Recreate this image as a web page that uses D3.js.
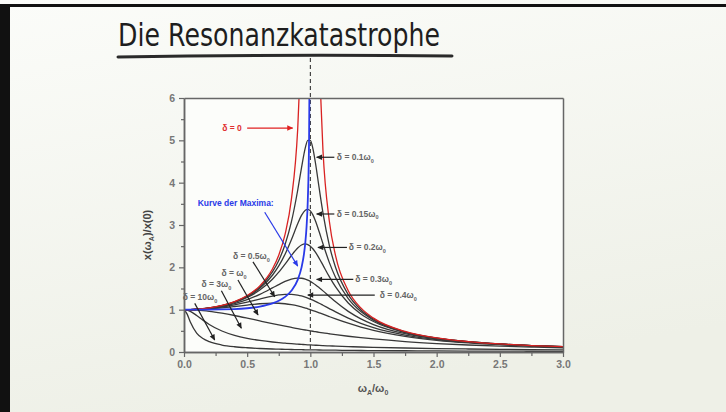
<!DOCTYPE html>
<html>
<head>
<meta charset="utf-8">
<script src="https://cdn.jsdelivr.net/npm/d3@7"></script>
<style>
body { margin: 0; background: #f4f5ef; }
svg { display: block; font-family: "Liberation Sans", Arial, sans-serif; }
</style>
</head>
<body>
<script>
// frequency ratio  omega_A / omega_0  (shared x grid)
var eta = [0, 0.025, 0.05, 0.1, 0.15, 0.2, 0.3, 0.4, 0.5, 0.6, 0.7, 0.75, 0.8, 0.85, 0.9, 0.93, 0.96, 0.98, 1.0, 1.02, 1.04, 1.07, 1.1, 1.15, 1.2, 1.3, 1.4, 1.5, 1.75, 2.0, 2.25, 2.5, 2.75, 3.0]

// x(omega_A)/x(0), one array per damping
var amp0   = [1, 1.001, 1.003, 1.010, 1.023, 1.042, 1.099, 1.190, 1.333, 1.563, 1.961, 2.286, 2.778, 3.604, 5.263, 7.402, null, null, null, null, null, 6.901, 4.762, 3.101, 2.273, 1.449, 1.042, 0.800, 0.485, 0.333, 0.246, 0.190, 0.152, 0.125]
var amp01  = [1, 1.001, 1.003, 1.010, 1.023, 1.041, 1.097, 1.185, 1.322, 1.536, 1.891, 2.162, 2.538, 3.073, 3.821, 4.350, 4.822, 5.001, 5.000, 4.809, 4.476, 3.869, 3.288, 2.525, 1.995, 1.356, 1.000, 0.778, 0.478, 0.330, 0.245, 0.190, 0.152, 0.125]
var amp015 = [1, 1.001, 1.002, 1.010, 1.022, 1.040, 1.094, 1.179, 1.307, 1.504, 1.813, 2.033, 2.311, 2.653, 3.029, 3.226, 3.350, 3.371, 3.333, 3.240, 3.101, 2.839, 2.557, 2.117, 1.759, 1.262, 0.954, 0.753, 0.470, 0.327, 0.243, 0.189, 0.151, 0.124]
var amp02  = [1, 1.001, 1.002, 1.009, 1.021, 1.038, 1.090, 1.170, 1.288, 1.463, 1.719, 1.885, 2.076, 2.279, 2.457, 2.527, 2.552, 2.538, 2.500, 2.439, 2.359, 2.213, 2.051, 1.780, 1.536, 1.157, 0.900, 0.721, 0.459, 0.322, 0.240, 0.187, 0.150, 0.124]
var amp03  = [1, 1.001, 1.002, 1.008, 1.019, 1.034, 1.078, 1.145, 1.238, 1.362, 1.514, 1.593, 1.667, 1.722, 1.747, 1.742, 1.720, 1.697, 1.667, 1.630, 1.589, 1.519, 1.444, 1.313, 1.185, 0.960, 0.784, 0.649, 0.432, 0.310, 0.234, 0.183, 0.148, 0.122]
var amp04  = [1, 1.000, 1.002, 1.007, 1.015, 1.028, 1.063, 1.113, 1.177, 1.250, 1.320, 1.347, 1.362, 1.362, 1.343, 1.323, 1.295, 1.274, 1.250, 1.224, 1.196, 1.152, 1.105, 1.026, 0.947, 0.801, 0.678, 0.577, 0.401, 0.294, 0.225, 0.178, 0.145, 0.120]
var amp05  = [1, 1.000, 1.001, 1.005, 1.011, 1.020, 1.044, 1.075, 1.109, 1.140, 1.155, 1.152, 1.140, 1.118, 1.087, 1.064, 1.038, 1.020, 1.000, 0.980, 0.959, 0.926, 0.893, 0.837, 0.782, 0.680, 0.589, 0.512, 0.370, 0.277, 0.215, 0.172, 0.141, 0.117]
var amp1   = [1, 0.999, 0.998, 0.990, 0.978, 0.962, 0.917, 0.862, 0.800, 0.735, 0.671, 0.640, 0.610, 0.581, 0.552, 0.536, 0.520, 0.510, 0.500, 0.490, 0.480, 0.466, 0.452, 0.431, 0.410, 0.372, 0.338, 0.308, 0.246, 0.200, 0.165, 0.138, 0.117, 0.100]
var amp3   = [1, 0.990, 0.960, 0.864, 0.753, 0.651, 0.496, 0.393, 0.323, 0.274, 0.236, 0.221, 0.208, 0.196, 0.185, 0.179, 0.174, 0.170, 0.167, 0.163, 0.160, 0.156, 0.151, 0.145, 0.139, 0.128, 0.118, 0.110, 0.094, 0.081, 0.071, 0.063, 0.056, 0.051]
var amp10  = [1, 0.895, 0.708, 0.448, 0.317, 0.243, 0.165, 0.124, 0.100, 0.083, 0.071, 0.067, 0.063, 0.059, 0.056, 0.054, 0.052, 0.051, 0.050, 0.049, 0.048, 0.047, 0.045, 0.043, 0.042, 0.038, 0.036, 0.033, 0.029, 0.025, 0.022, 0.020, 0.018, 0.017]

// "Kurve der Maxima"
var maxEta = [0, 0.2, 0.4, 0.5, 0.6, 0.7, 0.75, 0.8, 0.85, 0.9, 0.93, 0.95, 0.96, 0.97, 0.98, 0.99, 0.995]
var maxAmp = [1, 1.001, 1.013, 1.033, 1.072, 1.147, 1.210, 1.302, 1.446, 1.705, 1.992, 2.322, 2.576, 2.953, 3.589, 5.038, 7.098]

var blackCurves = [amp01, amp015, amp02, amp03, amp04, amp05, amp1, amp3, amp10]

var xTicks = [0, 0.5, 1, 1.5, 2, 2.5, 3]
var xMinor = [0.25, 0.75, 1.25, 1.75, 2.25, 2.75]
var yTicks = [0, 1, 2, 3, 4, 5, 6]
var yMinor = [0.5, 1.5, 2.5, 3.5, 4.5, 5.5]

// labels: text, text position (data units), arrow tail -> tip (data units)
var notes = [
  {t: 'δ = 0', s: '', tx: 0.457, ty: 5.29, anchor: 'end', a: [0.50, 5.29, 0.86, 5.29], red: true},
  {t: 'δ = 0.1ω', s: '0', tx: 1.21, ty: 4.60, a: [1.19, 4.60, 1.05, 4.60]},
  {t: 'δ = 0.15ω', s: '0', tx: 1.21, ty: 3.26, a: [1.19, 3.26, 1.05, 3.26]},
  {t: 'δ = 0.2ω', s: '0', tx: 1.305, ty: 2.47, a: [1.29, 2.47, 1.06, 2.47]},
  {t: 'δ = 0.3ω', s: '0', tx: 1.355, ty: 1.715, a: [1.34, 1.715, 1.05, 1.715]},
  {t: 'δ = 0.4ω', s: '0', tx: 1.55, ty: 1.345, a: [1.51, 1.345, 0.98, 1.345]},
  {t: 'δ = 0.5ω', s: '0', tx: 0.387, ty: 2.265, a: [0.546, 2.13, 0.718, 1.305]},
  {t: 'δ = ω', s: '0', tx: 0.296, ty: 1.864, a: [0.427, 1.70, 0.586, 0.873]},
  {t: 'δ = 3ω', s: '0', tx: 0.138, ty: 1.605, a: [0.296, 1.446, 0.454, 0.559]},
  {t: 'δ = 10ω', s: '0', tx: -0.01, ty: 1.291, a: [0.085, 1.149, 0.243, 0.283]}
]

var W = 726, H = 412

var svg = d3.select('body').append('svg').attr('width', W).attr('height', H)

var defs = svg.append('defs')
var grad = defs.append('linearGradient').attr('id', 'board').attr('x1', 0).attr('y1', 0).attr('x2', 0.3).attr('y2', 1)
grad.append('stop').attr('offset', 0).attr('stop-color', '#fbfcf9')
grad.append('stop').attr('offset', 1).attr('stop-color', '#eef0e7')

function marker(id, col) {
  defs.append('marker').attr('id', id).attr('viewBox', '0 0 10 10')
    .attr('refX', 9).attr('refY', 5).attr('markerWidth', 7).attr('markerHeight', 6)
    .attr('markerUnits', 'userSpaceOnUse').attr('orient', 'auto')
    .append('path').attr('d', 'M0,0.5L10,5L0,9.5z').attr('fill', col)
}
marker('ahBlack', '#222')
marker('ahRed', '#e02020')
marker('ahBlue', '#2a3ae8')

svg.append('rect').attr('width', W).attr('height', H).attr('fill', 'url(#board)')
// video frame edges
svg.append('rect').attr('x', 0).attr('y', 4).attr('width', 10).attr('height', H - 4).attr('fill', '#111')
svg.append('rect').attr('x', 0).attr('y', 4).attr('width', W).attr('height', 3).attr('fill', '#111')

// handwritten title
svg.append('text').attr('x', 118).attr('y', 46).text('Die Resonanzkatastrophe')
  .attr('font-family', 'DejaVu Sans').attr('font-size', 32).attr('fill', '#1e1e1e')
  .attr('textLength', 322).attr('lengthAdjust', 'spacingAndGlyphs')
svg.append('path').attr('d', 'M118,57 Q290,54 452,56').attr('fill', 'none')
  .attr('stroke', '#2a2a2a').attr('stroke-width', 3).attr('stroke-linecap', 'round')

var x = d3.scaleLinear().domain([0, 3]).range([184, 563])
var y = d3.scaleLinear().domain([0, 6]).range([352, 98])

svg.append('rect').attr('x', x(0)).attr('y', y(6)).attr('width', x(3) - x(0)).attr('height', y(0) - y(6))
  .attr('fill', '#fcfdfa')

defs.append('clipPath').attr('id', 'plot').append('rect')
  .attr('x', x(0)).attr('y', y(6)).attr('width', x(3) - x(0)).attr('height', y(0) - y(6))

// dashed resonance line
svg.append('line').attr('x1', x(1)).attr('x2', x(1)).attr('y1', 58).attr('y2', y(0))
  .attr('stroke', '#222').attr('stroke-width', 1).attr('stroke-dasharray', '4,3')

var line = d3.line().curve(d3.curveMonotoneX)
  .defined(function(d) { return d[1] != null })
  .x(function(d) { return x(d[0]) })
  .y(function(d) { return y(d[1]) })

function pts(xs, vs) { return xs.map(function(e, i) { return [e, vs[i]] }) }

var curves = svg.append('g').attr('clip-path', 'url(#plot)')

curves.selectAll('.amp').data(blackCurves).enter().append('path')
  .attr('class', 'amp')
  .attr('d', function(d) { return line(pts(eta, d)) })
  .attr('fill', 'none').attr('stroke', '#383838').attr('stroke-width', 1.3)

curves.append('path').attr('d', line(pts(eta, amp0)))
  .attr('fill', 'none').attr('stroke', '#d92222').attr('stroke-width', 1.3)

curves.append('path').attr('d', line(pts(maxEta, maxAmp)))
  .attr('fill', 'none').attr('stroke', '#2a3ae8').attr('stroke-width', 1.8)

// axes
function styleAxis(g) {
  g.select('.domain').attr('stroke', '#666').attr('stroke-width', 1.5)
  g.selectAll('.tick line').attr('stroke', '#666').attr('stroke-width', 1.2)
  g.selectAll('.tick text').attr('fill', '#777').attr('font-size', 10.5)
    .attr('font-weight', 'bold').attr('font-family', '"Liberation Sans", Arial, sans-serif')
}

svg.append('g').attr('transform', 'translate(0,' + y(0) + ')')
  .call(d3.axisBottom(x).tickValues(xMinor).tickSize(4).tickFormat('').tickSizeOuter(0))
  .call(styleAxis)
svg.append('g').attr('transform', 'translate(0,' + y(0) + ')')
  .call(d3.axisBottom(x).tickValues(xTicks).tickFormat(d3.format('.1f')).tickSize(5).tickSizeOuter(0).tickPadding(4))
  .call(styleAxis)
svg.append('g').attr('transform', 'translate(' + x(0) + ',0)')
  .call(d3.axisLeft(y).tickValues(yMinor).tickSize(3).tickFormat('').tickSizeOuter(0))
  .call(styleAxis)
svg.append('g').attr('transform', 'translate(' + x(0) + ',0)')
  .call(d3.axisLeft(y).tickValues(yTicks).tickFormat(d3.format('d')).tickSize(5).tickSizeOuter(0).tickPadding(4))
  .call(styleAxis)
svg.append('g').attr('transform', 'translate(0,' + y(6) + ')')
  .call(d3.axisTop(x).tickValues([]).tickSizeOuter(0)).call(styleAxis)
svg.append('g').attr('transform', 'translate(' + x(3) + ',0)')
  .call(d3.axisRight(y).tickValues([]).tickSizeOuter(0)).call(styleAxis)

// axis titles
var yl = svg.append('text').attr('transform', 'translate(151,235) rotate(-90)')
  .attr('text-anchor', 'middle').attr('font-size', 11).attr('font-weight', 'bold').attr('fill', '#444')
yl.append('tspan').text('x(ω')
yl.append('tspan').text('A').attr('font-size', 7).attr('dy', 3)
yl.append('tspan').text(')/x(0)').attr('dy', -3)

var xl = svg.append('text').attr('x', 373).attr('y', 392)
  .attr('text-anchor', 'middle').attr('font-size', 11).attr('font-weight', 'bold').attr('fill', '#555')
xl.append('tspan').text('ω')
xl.append('tspan').text('A').attr('font-size', 7).attr('dy', 3)
xl.append('tspan').text('/ω').attr('dy', -3)
xl.append('tspan').text('0').attr('font-size', 7).attr('dy', 3)

// annotations
var ann = svg.append('g')
notes.forEach(function(n) {
  var col = n.red ? '#e02020' : '#222'
  ann.append('line')
    .attr('x1', x(n.a[0])).attr('y1', y(n.a[1])).attr('x2', x(n.a[2])).attr('y2', y(n.a[3]))
    .attr('stroke', col).attr('stroke-width', 1.2)
    .attr('marker-end', n.red ? 'url(#ahRed)' : 'url(#ahBlack)')
  var t = ann.append('text').attr('x', x(n.tx)).attr('y', y(n.ty) + 3)
    .attr('text-anchor', n.anchor || 'start').attr('font-size', 8.5).attr('font-weight', 'bold')
    .attr('fill', n.red ? '#e03030' : '#666')
  t.append('tspan').text(n.t)
  if (n.s) t.append('tspan').text(n.s).attr('font-size', 5.5).attr('dy', 2.5)
})

svg.append('text').attr('x', x(0.108)).attr('y', y(3.516) + 3).text('Kurve der Maxima:')
  .attr('font-size', 8.5).attr('font-weight', 'bold').attr('fill', '#2a3ae8')
svg.append('line').attr('x1', x(0.639)).attr('y1', y(3.30)).attr('x2', x(0.90)).attr('y2', y(2.03))
  .attr('stroke', '#2a3ae8').attr('stroke-width', 1.2).attr('marker-end', 'url(#ahBlue)')
</script>
</body>
</html>
